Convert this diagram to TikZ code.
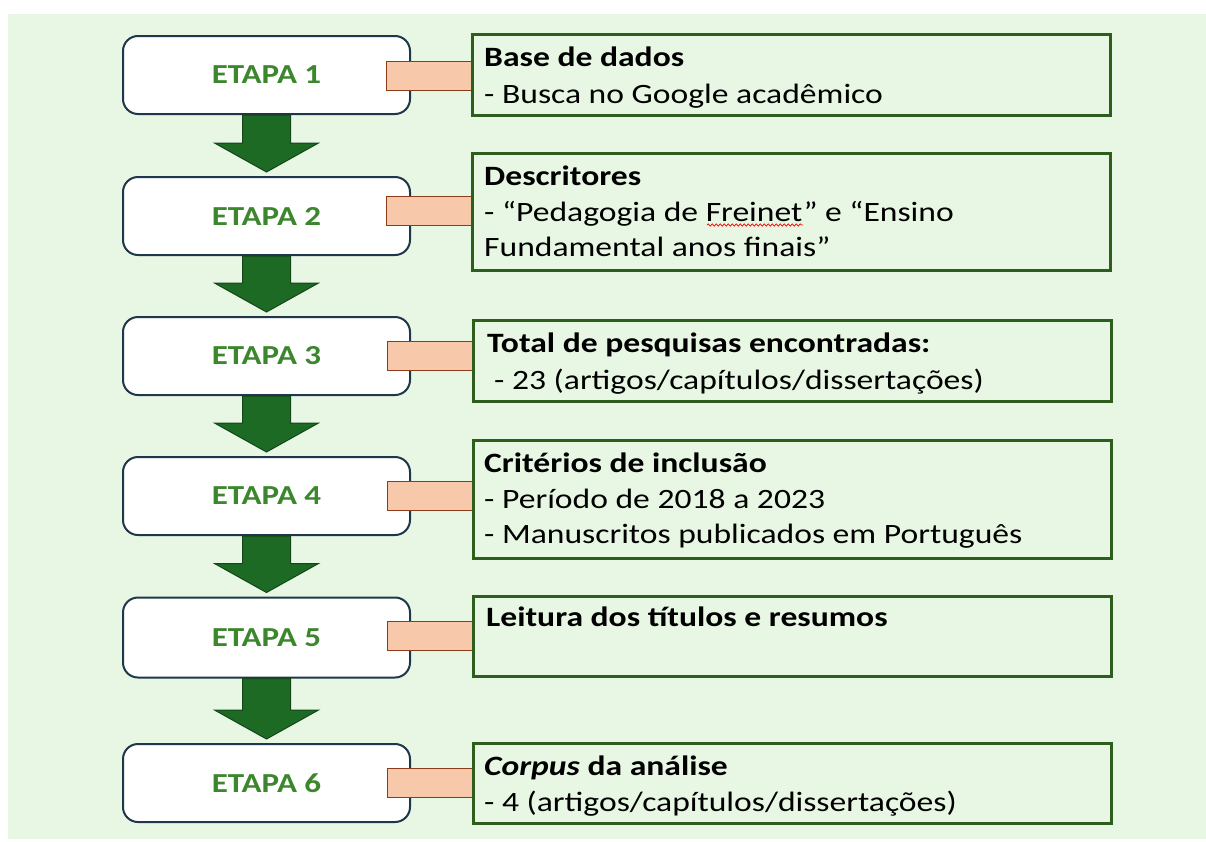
\documentclass[tikz,border=0pt]{standalone}
\usepackage{fontspec}
\setmainfont{Carlito}[FakeStretch=1.2]
\usetikzlibrary{calc,decorations.pathmorphing}
\definecolor{bgc}{RGB}{232,247,228}
\definecolor{leftborder}{RGB}{30,55,75}
\definecolor{rightborder}{RGB}{46,94,30}
\definecolor{etapagreen}{RGB}{60,135,45}
\definecolor{arrowfill}{RGB}{28,106,35}
\definecolor{arrowline}{RGB}{20,70,25}
\definecolor{linkfill}{RGB}{248,200,170}
\definecolor{linkline}{RGB}{140,60,25}
\newcommand{\stepArrow}[2]{%
  \draw[garrow] ($(#1.south)+(-24,0)$) -- ($(#2.north)+(-24,-33)$) -- ($(#2.north)+(-52,-33)$)
    -- ($(#2.north)+(0,-4)$) -- ($(#2.north)+(52,-33)$) -- ($(#2.north)+(24,-33)$)
    -- ($(#1.south)+(24,0)$) -- cycle;}
\begin{document}
\begin{tikzpicture}[x=1pt,y=-1pt,
  etapa/.style={draw=leftborder, line width=2pt, fill=white, rounded corners=15pt,
    minimum width=287pt, minimum height=78pt, inner sep=0pt,
    font=\fontsize{27.5}{30}\selectfont\bfseries, text=etapagreen},
  rbox/.style={draw=rightborder, line width=3pt, fill=bgc, minimum width=638pt, inner sep=0pt},
  linkbox/.style={draw=linkline, line width=1.6pt, fill=linkfill, minimum width=85pt, minimum height=29pt, inner sep=0pt},
  garrow/.style={draw=arrowline, line width=1pt, fill=arrowfill, line join=miter},
  txt/.style={anchor=base west, inner sep=0pt, font=\fontsize{28}{33}\selectfont},
  btxt/.style={txt, font=\fontsize{28}{33}\selectfont\bfseries}]
\useasboundingbox (0,0) rectangle (1206,841);
\fill[bgc] (8,14) rectangle (1206,839);
% left step boxes
\node[etapa] (e1) at (266.5,75) {ETAPA 1};
\node[etapa] (e2) at (266.5,216) {ETAPA 2};
\node[etapa] (e3) at (266.5,356) {ETAPA 3};
\node[etapa] (e4) at (266.5,496) {ETAPA 4};
\node[etapa, minimum height=80pt] (e5) at (266.5,637.5) {ETAPA 5};
\node[etapa] (e6) at (266.5,783) {ETAPA 6};
% arrows
\stepArrow{e1}{e2}
\stepArrow{e2}{e3}
\stepArrow{e3}{e4}
\stepArrow{e4}{e5}
\stepArrow{e5}{e6}
% links
\node[linkbox] (c1) at (429,76) {};
\node[linkbox] (c2) at (429,211) {};
\node[linkbox] (c3) at (430,356) {};
\node[linkbox] (c4) at (430,496) {};
\node[linkbox] (c5) at (430,636) {};
\node[linkbox] (c6) at (430,783) {};
% right boxes
\node[rbox, minimum height=81pt] (r1) at (791,75) {};
\node[rbox, minimum height=117pt] (r2) at (791,212) {};
\node[rbox, minimum height=81pt] (r3) at (792,361) {};
\node[rbox, minimum height=118pt] (r4) at (792,499.5) {};
\node[rbox, minimum height=80pt] (r5) at (792,636.5) {};
\node[rbox, minimum height=80pt] (r6) at (792,783.5) {};
% texts
\node[btxt] (t1a) at (484,66) {Base de dados};
\node[txt] (t1b) at (484,103) {- Busca no Google acadêmico};
\node[btxt] (t2a) at (484,185) {Descritores};
\node[txt] (t2b) at (484,221) {- “Pedagogia de Freinet” e “Ensino};
\node[txt] (t2c) at (484,256) {Fundamental anos finais”};
\draw[red, line width=0.7pt, decorate, decoration={snake, amplitude=1.2pt, segment length=4pt}]
  (707,225) -- (803,225);
\node[btxt] (t3a) at (487,352) {Total de pesquisas encontradas:};
\node[txt] (t3b) at (494,389) {- 23 (artigos/capítulos/dissertações)};
\node[btxt] (t4a) at (484,472) {Critérios de inclusão};
\node[txt] (t4b) at (484,508) {- Período de 2018 a 2023};
\node[txt] (t4c) at (484,543.5) {- Manuscritos publicados em Português};
\node[btxt] (t5a) at (486,626) {Leitura dos títulos e resumos};
\node[btxt] (t6a) at (484,775) {\textit{Corpus} da análise};
\node[txt] (t6b) at (484,811) {- 4 (artigos/capítulos/dissertações)};
\end{tikzpicture}
\end{document}
